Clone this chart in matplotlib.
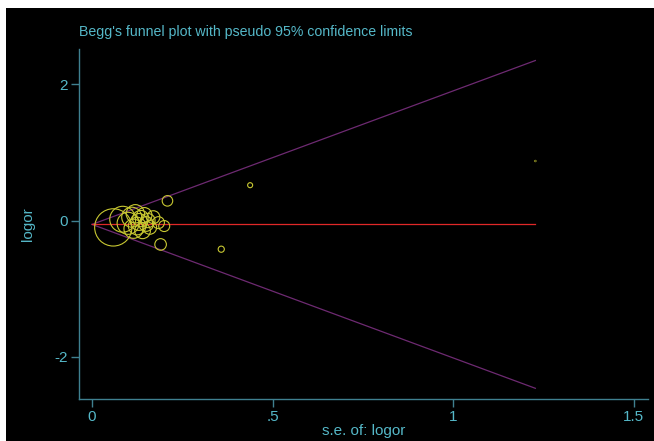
import numpy as np
import matplotlib
matplotlib.use("Agg")
import matplotlib.pyplot as plt
from matplotlib.patches import Rectangle

# --- Stata-like dark palette ---
BG_COLOR = "#000000"
AXIS_COLOR = "#3f8090"
TEXT_COLOR = "#55b8c8"
MARKER_COLOR = "#c8c832"
POOLED_COLOR = "#e02828"
LIMIT_COLOR = "#6e2a72"

plt.rcParams["font.family"] = ["Liberation Sans", "DejaVu Sans"]

# Study standard errors and log odds ratios
se = [0.059, 0.085, 0.100, 0.110, 0.115, 0.120, 0.125, 0.130, 0.135, 0.140,
      0.145, 0.150, 0.155, 0.160, 0.170, 0.184, 0.190, 0.200, 0.209, 0.358,
      0.438, 1.228]
logor = [-0.10, 0.02, -0.04, 0.05, -0.12, 0.10, -0.08, -0.02, 0.03, -0.15,
         0.08, -0.05, 0.00, -0.10, 0.05, -0.03, -0.35, -0.08, 0.29, -0.42,
         0.52, 0.875]
pooled = -0.056

x_ticks = [0, 0.5, 1, 1.5]
x_tick_labels = ["0", ".5", "1", "1.5"]
y_ticks = [-2, 0, 2]
y_tick_labels = ["-2", "0", "2"]

se = np.array(se)
logor = np.array(logor)

fig = plt.figure(figsize=(6.54, 4.41), dpi=100)
fig.patch.set_facecolor(BG_COLOR)
ax = fig.add_axes([79 / 654, 1 - 399 / 441, (648 - 79) / 654, (399 - 49) / 441])
ax.set_facecolor(BG_COLOR)

# pseudo 95% limits and pooled line
se_max = se.max()
s_line = np.array([0, se_max])
ax.plot(s_line, pooled + 1.96 * s_line, color=LIMIT_COLOR, lw=0.9, zorder=1)
ax.plot(s_line, pooled - 1.96 * s_line, color=LIMIT_COLOR, lw=0.9, zorder=1)
ax.plot(s_line, [pooled, pooled], color=POOLED_COLOR, lw=0.9, zorder=2)

# symbol radius proportional to 1/se (area ~ weight)
radius_px = 1.1 / se
sizes = (2 * radius_px * 0.72) ** 2
widths = np.where(radius_px < 1.5, 0.4, 0.8)
ax.scatter(se, logor, s=sizes, facecolors="none", edgecolors=MARKER_COLOR,
           linewidths=widths, zorder=3)

ax.set_xlim(-0.036, 1.54)
ax.set_ylim(-2.62, 2.52)
ax.set_xticks(x_ticks)
ax.set_xticklabels(x_tick_labels)
ax.set_yticks(y_ticks)
ax.set_yticklabels(y_tick_labels)

for side in ["top", "right"]:
    ax.spines[side].set_visible(False)
for side in ["left", "bottom"]:
    ax.spines[side].set_color(AXIS_COLOR)
    ax.spines[side].set_linewidth(1.0)
ax.tick_params(colors=AXIS_COLOR, labelcolor=TEXT_COLOR, length=6,
               width=1.0, labelsize=11, pad=2)

ax.set_xlabel("s.e. of: logor", color=TEXT_COLOR, fontsize=11, labelpad=0)
ax.set_ylabel("logor", color=TEXT_COLOR, fontsize=11, labelpad=14)

fig.text(79 / 654, 1 - 32 / 441, "Begg's funnel plot with pseudo 95% confidence limits",
         color=TEXT_COLOR, fontsize=10.2, va="center", ha="left")

# white margin along the top and left edges
fig.patches.append(Rectangle((0, 1 - 8 / 441), 1, 8 / 441, transform=fig.transFigure,
                             facecolor="white", edgecolor="none", zorder=10))
fig.patches.append(Rectangle((0, 0), 6 / 654, 1, transform=fig.transFigure,
                             facecolor="white", edgecolor="none", zorder=10))

fig.savefig("out.png", dpi=100, facecolor=BG_COLOR)
